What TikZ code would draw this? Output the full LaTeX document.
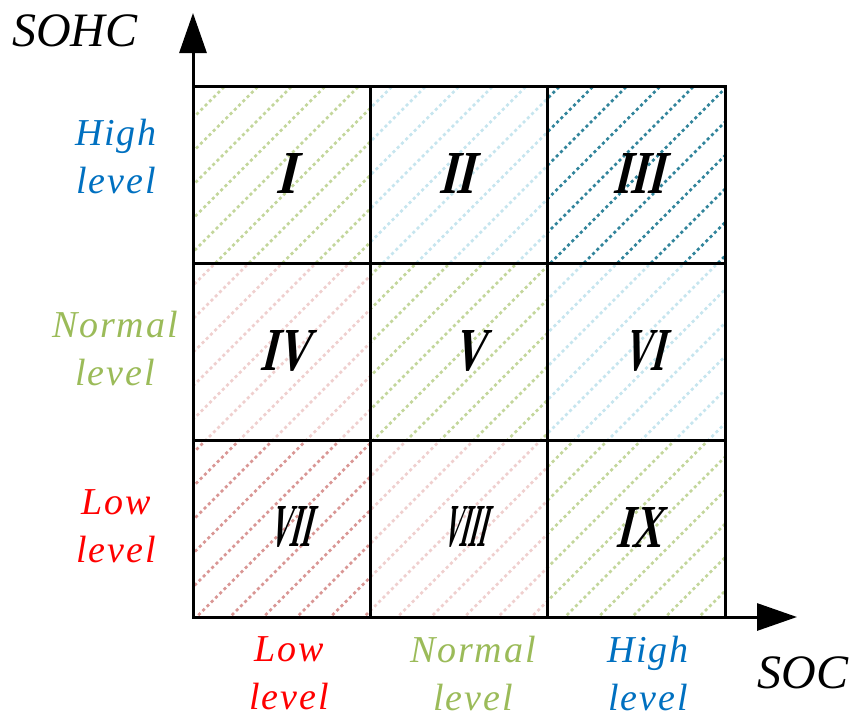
\documentclass[tikz,border=0pt]{standalone}
\usepackage{fontspec}
\setmainfont{Liberation Serif}
\usepackage{graphicx}
\usetikzlibrary{arrows.meta}
\definecolor{hatchgreen}{HTML}{C3D69B}
\definecolor{hatchblue}{HTML}{C6E5EE}
\definecolor{hatchteal}{HTML}{31849B}
\definecolor{hatchpink}{HTML}{EFCFCE}
\definecolor{hatchrose}{HTML}{D99694}
\definecolor{lvlblue}{HTML}{0070C0}
\definecolor{lvlgreen}{HTML}{9BBB59}
\definecolor{lvlred}{HTML}{FF0000}

% one hatched cell: left, top, colour
\newcommand{\hatchcell}[3]{%
  \begin{scope}
    \clip (#1,#2) rectangle ++(177.33,177.33);
    \foreach \k in {-1,...,31}
      \draw[hatch, #3] ({311+33.5*\k-700},700) -- ({311+33.5*\k},0);
  \end{scope}}
% narrow slanted numeral: width, slant, text
\newcommand{\numeral}[3]{\resizebox{#1pt}{40pt}{\bfseries\addfontfeature{FakeSlant=#2}#3}}

\begin{document}
\begin{tikzpicture}[x=1pt, y=-1pt,
  hatch/.style={line width=2.8pt, dash pattern=on 3pt off 3pt},
  gridline/.style={line width=3pt},
  axis/.style={line width=3pt, -{Triangle[length=40pt, width=27pt]}},
  numeral/.style={inner sep=0pt},
  lvl/.style={align=center, inner sep=0pt, font=\fontsize{38}{48}\selectfont\itshape\addfontfeature{LetterSpace=5}},
  axislabel/.style={anchor=base, inner sep=0pt, font=\fontsize{48}{56}\selectfont\itshape}]
  \useasboundingbox (0,0) rectangle (854,718);

  % hatching
  \hatchcell{193}{86}{hatchgreen}
  \hatchcell{370.33}{86}{hatchblue}
  \hatchcell{547.67}{86}{hatchteal}
  \hatchcell{193}{263.33}{hatchpink}
  \hatchcell{370.33}{263.33}{hatchgreen}
  \hatchcell{547.67}{263.33}{hatchblue}
  \hatchcell{193}{440.67}{hatchrose}
  \hatchcell{370.33}{440.67}{hatchpink}
  \hatchcell{547.67}{440.67}{hatchgreen}

  % grid
  \draw[gridline] (193,86) rectangle (725,617);
  \foreach \x in {370.33, 547.67}
    \draw[gridline] (\x,86) -- (\x,617);
  \foreach \y in {263.33, 440.67}
    \draw[gridline] (193,\y) -- (725,\y);

  % axes
  \coordinate (origin) at (193,617);
  \coordinate (sohctip) at (193,13);
  \coordinate (soctip) at (797,617);
  \draw[axis] (origin) -- (sohctip);
  \draw[axis] (origin) -- (soctip);
  \node[axislabel] (sohc) at (75,46) {SOHC};
  \node[axislabel] (soc) at (803,688) {SOC};

  % cell numerals
  \node[numeral] (cellI) at (285,173) {\numeral{20}{0.29}{I}};
  \node[numeral] (cellII) at (456,173) {\numeral{36}{0.32}{II}};
  \node[numeral] (cellIII) at (638,173) {\numeral{51}{0.34}{III}};
  \node[numeral] (cellIV) at (284,351) {\numeral{49}{0.34}{IV}};
  \node[numeral] (cellV) at (468,351) {\numeral{31}{0.35}{V}};
  \node[numeral] (cellVI) at (643,351) {\numeral{41}{0.40}{VI}};
  \node[numeral] (cellVII) at (289,527) {\numeral{42}{0.53}{VII}};
  \node[numeral] (cellVIII) at (464,527) {\numeral{43}{0.66}{VIII}};
  \node[numeral] (cellIX) at (638,527) {\numeral{45}{0.37}{IX}};

  % level labels
  \node[lvl, lvlblue] (sohchigh) at (116,156) {High\\level};
  \node[lvl, lvlgreen] (sohcnormal) at (115,348) {Normal\\level};
  \node[lvl, lvlred] (sohclow) at (116,526) {Low\\level};
  \node[lvl, lvlred] (soclow) at (289,673) {Low\\level};
  \node[lvl, lvlgreen] (socnormal) at (473,673) {Normal\\level};
  \node[lvl, lvlblue] (sochigh) at (648,673) {High\\level};
\end{tikzpicture}
\end{document}
